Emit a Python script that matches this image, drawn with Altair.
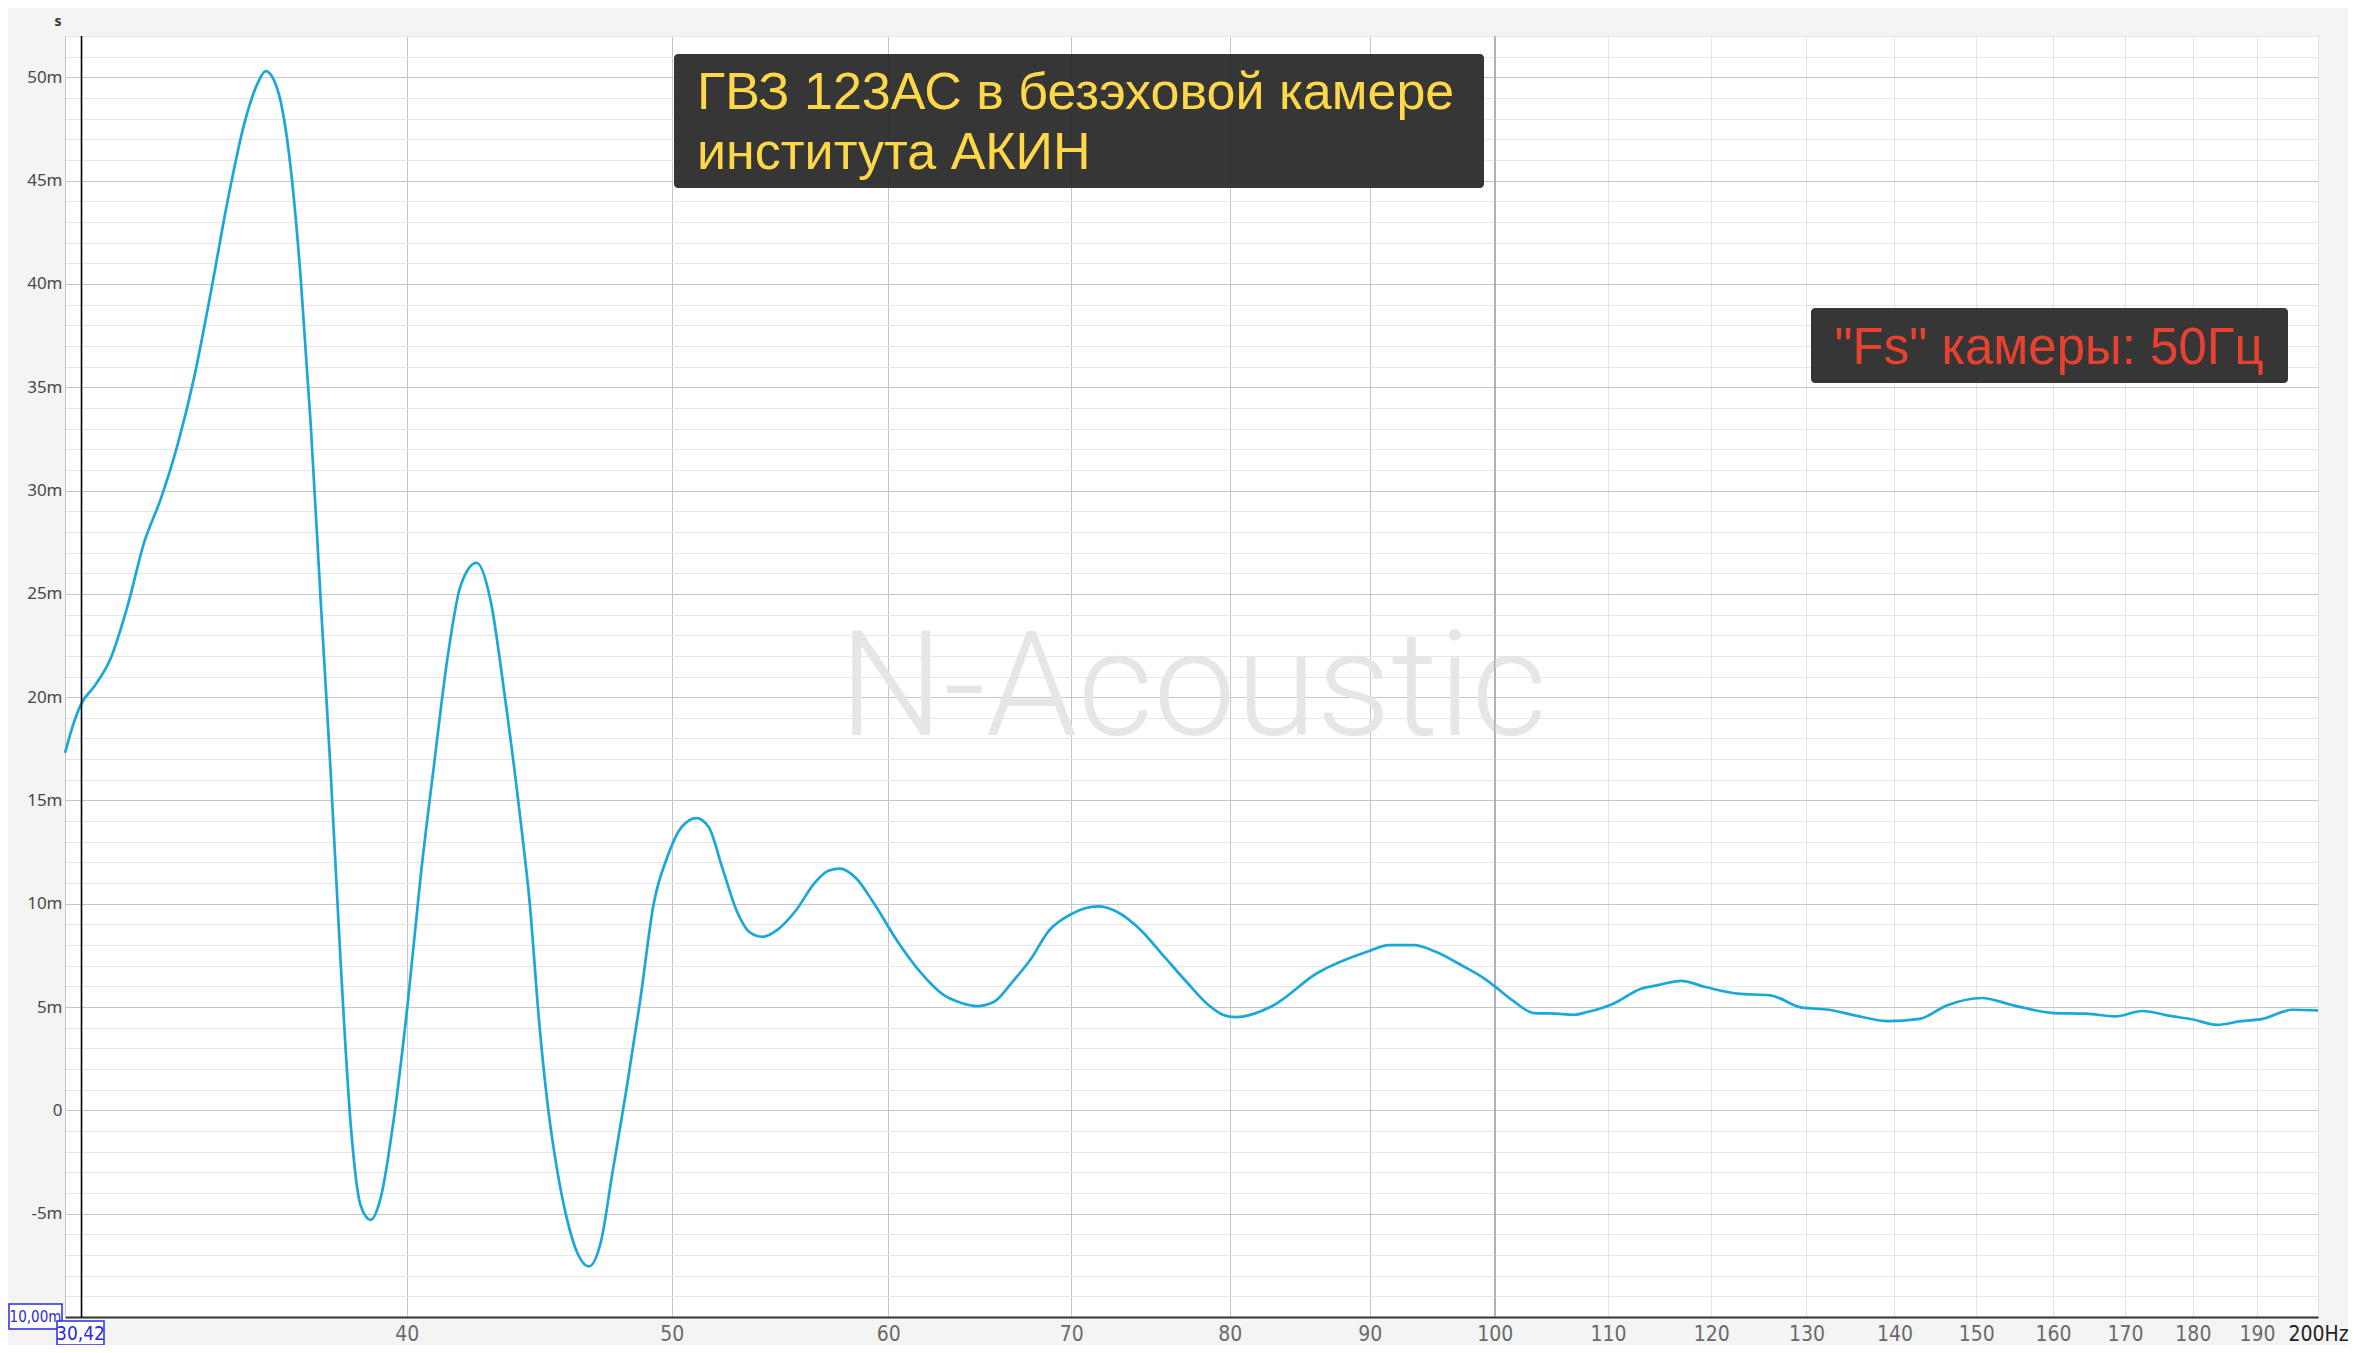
import altair as alt
import pandas as pd

# ---- data ----
freq_hz = [30.0, 30.23, 30.42, 30.74, 31.18, 31.62, 32.07, 32.52, 32.98, 33.45,
           33.92, 34.40, 34.88, 35.28, 35.52, 35.88, 36.28, 36.59, 36.90, 37.21,
           37.52, 37.84, 38.16, 38.48, 38.81, 39.14, 39.58, 40.03, 40.48, 40.94,
           41.40, 41.86, 42.43, 42.94, 43.42, 44.03, 44.37, 44.72, 45.07, 45.42,
           45.77, 46.22, 46.63, 47.12, 47.57, 48.13, 48.69, 49.25, 49.83, 50.41,
           51.06, 51.59, 52.19, 52.80, 53.42, 53.98, 54.67, 55.53, 56.39, 57.05,
           57.60, 58.39, 59.30, 60.46, 61.64, 62.84, 63.82, 64.64, 65.58, 66.60,
           67.64, 68.70, 70.0, 71.59, 72.77, 74.18, 75.63, 77.10, 78.61, 79.53,
           80.39, 82.85, 86.12, 89.90, 91.46, 93.44, 95.06, 97.16, 99.25, 100.0,
           101.5, 103.37, 105.25, 106.9, 108.1, 110.6, 113.1, 114.7, 117.0, 119.4,
           122.7, 126.1, 129.5, 132.5, 135.5, 139.2, 143.0, 146.3, 150.7, 154.5,
           160.1, 164.5, 168.6, 172.5, 176.8, 180.0, 183.7, 187.5, 190.9, 195.7,
           200.0]
delay_ms = [17.3, 18.8, 19.7, 20.5, 21.9, 24.4, 27.5, 29.6, 32.2, 35.5,
            39.6, 44.0, 47.7, 49.7, 50.3, 49.4, 45.6, 40.2, 33.1, 24.6,
            16.4, 7.1, -0.7, -4.6, -5.3, -4.2, -0.3, 5.1, 11.4, 16.8,
            21.9, 25.4, 26.5, 24.6, 20.3, 14.0, 10.0, 4.3, 0.0, -3.0,
            -5.2, -7.0, -7.55, -6.3, -3.0, 1.0, 5.3, 10.0, 12.3, 13.7,
            14.15, 13.7, 11.7, 9.7, 8.6, 8.4, 8.75, 9.7, 11.0, 11.6,
            11.7, 11.25, 10.0, 8.2, 6.7, 5.6, 5.2, 5.05, 5.25, 6.2,
            7.3, 8.7, 9.5, 9.87, 9.6, 8.75, 7.5, 6.25, 5.08, 4.63,
            4.51, 5.03, 6.65, 7.7, 8.0, 8.0, 7.7, 7.05, 6.33, 6.0,
            5.32, 4.71, 4.68, 4.63, 4.76, 5.19, 5.89, 6.06, 6.27, 5.97,
            5.65, 5.57, 4.97, 4.87, 4.59, 4.32, 4.43, 5.08, 5.44, 5.11,
            4.71, 4.68, 4.55, 4.81, 4.56, 4.40, 4.14, 4.32, 4.43, 4.87,
            4.84]

x_tick_values = [40, 50, 60, 70, 80, 90, 100, 110, 120, 130, 140, 150,
                 160, 170, 180, 190, 200]
y_grid_values = [-10, -9, -8, -7, -6, -5, -4, -3, -2, -1, 0, 1, 2, 3, 4, 5, 6, 7, 8, 9,
                 10, 11, 12, 13, 14, 15, 16, 17, 18, 19, 20, 21, 22, 23, 24, 25, 26,
                 27, 28, 29, 30, 31, 32, 33, 34, 35, 36, 37, 38, 39, 40, 41, 42, 43,
                 44, 45, 46, 47, 48, 49, 50, 51, 52]
cursor_hz = [30.42]
dark_grid_hz = [100]
title_lines = ["ГВЗ 123АС в безэховой камере", "института АКИН"]
fs_label = ['"Fs" камеры: 50Гц']
watermark = ["N-Acoustic"]
cursor_x_label = ["30,42"]
cursor_y_label = ["10,00m"]
unit_label = ["s"]

W, H = 2253, 1281
NARROW = "Liberation Sans Narrow, DejaVu Sans Condensed, Roboto, sans-serif"

x_scale = alt.Scale(type="log", domain=[30, 200], nice=False)
y_scale = alt.Scale(domain=[-10, 52], nice=False, zero=False)

x_axis = alt.Axis(
    values=x_tick_values, title=None, ticks=False, tickSize=0, format="d",
    labelExpr="datum.value == 200 ? '200Hz' : datum.label",
    labelFont=NARROW, labelFontSize=21, labelPadding=17, labelBaseline="middle",
    labelColor={"condition": {"test": "datum.value == 200", "value": "#222222"},
                "value": "#6a6a6a"},
    labelOverlap=False, labelFlush=False, labelBound=False,
    grid=True, gridWidth=1,
    gridColor={"condition": {"test": "datum.value <= 100", "value": "#c4c4c4"},
               "value": "#e3e3e3"},
    domainColor="#333333", domainWidth=2,
)
y_axis = alt.Axis(
    values=y_grid_values, title=None, ticks=False, tickSize=0,
    labelExpr="(datum.value % 5 != 0 || datum.value < -5) ? '' : (datum.value == 0 ? '0' : datum.value + 'm')",
    labelFont="Noto Sans", labelFontSize=17, labelColor="#484848", labelPadding=3,
    labelBaseline="middle", labelOverlap=False, labelFlush=False, labelBound=False,
    grid=True, gridWidth=1,
    gridColor={"condition": {"test": "datum.value % 5 == 0", "value": "#c6c6c6"},
               "value": "#e6e6e6"},
    domainColor="#c4c4c4", domainWidth=1,
)

def xenc():
    return alt.X("f:Q", scale=x_scale, axis=x_axis)

df = pd.DataFrame({"f": freq_hz, "v": delay_ms})

mark_wm = alt.Chart(pd.DataFrame({"t": watermark})).mark_text(
    font="Roboto", fontWeight=300, fontSize=147, color="#e6e6e6",
    align="center", baseline="alphabetic"
).encode(x=alt.value(1128), y=alt.value(699), text="t:N")

dark_rule = alt.Chart(pd.DataFrame({"f": dark_grid_hz})).mark_rule(
    color="#8c8c8c", strokeWidth=1).encode(x=xenc())

curve = alt.Chart(df).mark_line(
    color="#1aa8d8", strokeWidth=2.7, interpolate="monotone"
).encode(x=xenc(), y=alt.Y("v:Q", scale=y_scale, axis=y_axis))

cursor = alt.Chart(pd.DataFrame({"f": cursor_hz})).mark_rule(
    color="#000000", strokeWidth=1.6).encode(x=xenc())

box1 = alt.Chart(pd.DataFrame({"t": ["\n".join(title_lines)]})).mark_rect(
    color="#2b2b2b", opacity=0.95, cornerRadius=4
).encode(x=alt.value(609), x2=alt.value(1419), y=alt.value(18), y2=alt.value(152))
text1 = alt.Chart(pd.DataFrame({"t": ["\n".join(title_lines)]})).mark_text(
    font="Liberation Sans", fontSize=52, color="#FFD84A", align="left",
    baseline="alphabetic", lineBreak="\n", lineHeight=60
).encode(x=alt.value(632), y=alt.value(72.5), text="t:N")

box2 = alt.Chart(pd.DataFrame({"t": fs_label})).mark_rect(
    color="#2b2b2b", opacity=0.95, cornerRadius=4
).encode(x=alt.value(1746), x2=alt.value(2223), y=alt.value(272), y2=alt.value(347))
text2 = alt.Chart(pd.DataFrame({"t": fs_label})).mark_text(
    font="Liberation Sans", fontSize=51, color="#E8412F", align="center",
    baseline="alphabetic"
).encode(x=alt.value(1984), y=alt.value(327.5), text="t:N")

unit = alt.Chart(pd.DataFrame({"t": unit_label})).mark_text(
    font="Noto Sans", fontSize=14, fontWeight="bold", color="#333333",
    align="center", baseline="alphabetic"
).encode(x=alt.value(-7), y=alt.value(-10), text="t:N")

cx_box = alt.Chart(pd.DataFrame({"t": cursor_x_label})).mark_rect(
    fill="#ffffff", stroke="#2a2ae0", strokeWidth=1.5
).encode(x=alt.value(-8), x2=alt.value(39), y=alt.value(1285), y2=alt.value(1309))
cx_text = alt.Chart(pd.DataFrame({"t": cursor_x_label})).mark_text(
    font=NARROW, fontSize=19, color="#2a2ae0", align="center", baseline="alphabetic"
).encode(x=alt.value(15.5), y=alt.value(1304), text="t:N")

cy_box = alt.Chart(pd.DataFrame({"t": cursor_y_label})).mark_rect(
    fill="#ffffff", stroke="#2a2ae0", strokeWidth=1.5
).encode(x=alt.value(-56), x2=alt.value(-3), y=alt.value(1268), y2=alt.value(1293))
cy_text = alt.Chart(pd.DataFrame({"t": cursor_y_label})).mark_text(
    font=NARROW, fontSize=15, color="#2a2ae0", align="center", baseline="alphabetic"
).encode(x=alt.value(-29.5), y=alt.value(1286), text="t:N")

chart = alt.layer(
    mark_wm, dark_rule, curve, cursor, box1, text1, box2, text2, unit,
    cy_box, cy_text, cx_box, cx_text
).properties(
    width=W, height=H,
    autosize=alt.AutoSizeParams(type="none"),
    padding={"left": 57, "top": 28, "right": 30, "bottom": 28},
    background="#f4f4f4",
).configure_view(
    fill="#ffffff", stroke="#c4c4c4", strokeWidth=1
)

chart.save("out.html", embed_options={"renderer": "svg", "actions": False})
